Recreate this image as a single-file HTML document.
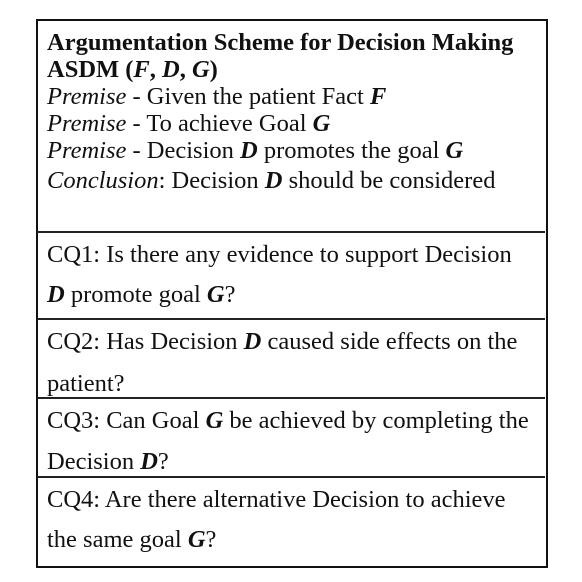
<!DOCTYPE html>
<html><head><style>
html,body{margin:0;padding:0;background:#fff;}
body{width:582px;height:582px;position:relative;overflow:hidden;font-family:"Liberation Serif",serif;font-size:24.5px;color:#111;}
.t{position:absolute;left:47px;white-space:nowrap;height:30px;line-height:30px;}
.box{position:absolute;left:36px;top:19px;width:508px;height:545px;border:2px solid #111;}
.h{position:absolute;left:37px;width:508px;height:0;border-top:2px solid #222;}
</style></head><body>
<div class="box"></div>
<div class="h" style="top:231px"></div>
<div class="h" style="top:318px"></div>
<div class="h" style="top:397px"></div>
<div class="h" style="top:476px"></div>
<div class="t" style="top:28px"><b>Argumentation Scheme for Decision Making</b></div>
<div class="t" style="top:55px"><b>ASDM (<i>F</i>, <i>D</i>, <i>G</i>)</b></div>
<div class="t" style="top:82px"><i>Premise</i> - Given the patient Fact <b><i>F</i></b></div>
<div class="t" style="top:109px"><i>Premise</i> - To achieve Goal <b><i>G</i></b></div>
<div class="t" style="top:136px"><i>Premise</i> - Decision <b><i>D</i></b> promotes the goal <b><i>G</i></b></div>
<div class="t" style="top:166px"><i>Conclusion</i>: Decision <b><i>D</i></b> should be considered</div>
<div class="t" style="top:240px">CQ1: Is there any evidence to support Decision</div>
<div class="t" style="top:280px"><b><i>D</i></b> promote goal <b><i>G</i></b>?</div>
<div class="t" style="top:327px">CQ2: Has Decision <b><i>D</i></b> caused side effects on the</div>
<div class="t" style="top:369px">patient?</div>
<div class="t" style="top:406px">CQ3: Can Goal <b><i>G</i></b> be achieved by completing the</div>
<div class="t" style="top:447px">Decision <b><i>D</i></b>?</div>
<div class="t" style="top:485px">CQ4: Are there alternative Decision to achieve</div>
<div class="t" style="top:525px">the same goal <b><i>G</i></b>?</div>
</body></html>
